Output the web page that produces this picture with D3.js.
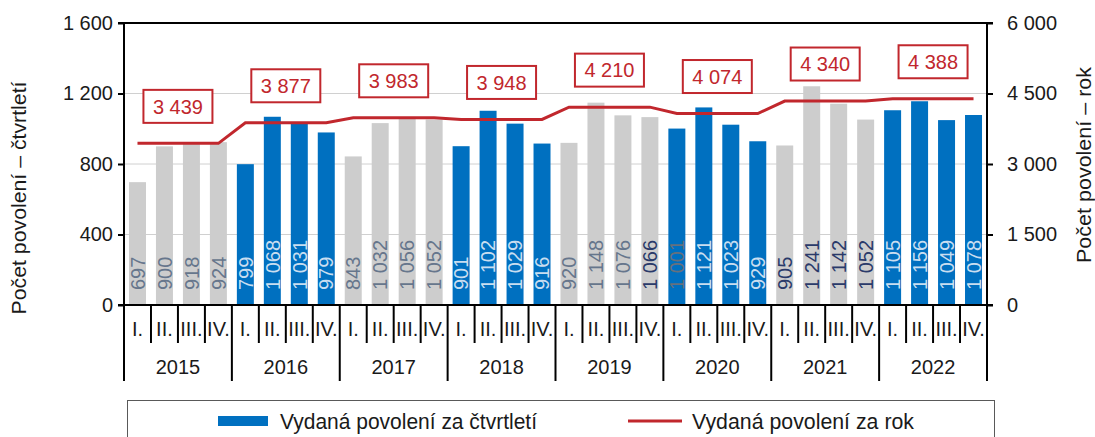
<!DOCTYPE html>
<html>
<head>
<meta charset="utf-8">
<script src="https://cdn.jsdelivr.net/npm/d3@7"></script>
<style>
  body { margin: 0; background: #fff; }
  svg text { font-family: "Liberation Sans", Arial, sans-serif; }
</style>
</head>
<body>
<svg id="chart"></svg>
<script>
var years = ["2015", "2016", "2017", "2018", "2019", "2020", "2021", "2022"];
var quarters = ["I.", "II.", "III.", "IV."];
var quarterly = [697, 900, 918, 924,
	799, 1068, 1031, 979,
	843, 1032, 1056, 1052,
	901, 1102, 1029, 916,
	920, 1148, 1076, 1066,
	1001, 1121, 1023, 929,
	905, 1241, 1142, 1052,
	1105, 1156, 1049, 1078];
var annual = [3439, 3877, 3983, 3948, 4210, 4074, 4340, 4388];
var leftTicks = [0, 400, 800, 1200, 1600];
var rightTicks = [0, 1500, 3000, 4500, 6000];

var W = 1095, H = 437;
var plot = { left: 124, right: 987, top: 23, bottom: 305 };

var blue = "#0070C0", grey = "#CDCDCD", red = "#C1272D";

var loc = d3.formatLocale({ decimal: ",", thousands: " ", grouping: [3], currency: ["", ""] });
var fmt = loc.format(",d");

var svg = d3.select("#chart").attr("width", W).attr("height", H);

var rows = quarterly.map(function(v, i) {
	return { i: i, value: v, year: Math.floor(i / 4), q: i % 4 };
});

var x = d3.scaleBand()
	.domain(d3.range(quarterly.length))
	.range([plot.left, plot.right])
	.paddingInner(0.37)
	.paddingOuter(0.185);
var step = x.step();

var y = d3.scaleLinear().domain([0, 1600]).range([plot.bottom, plot.top]);
var yR = d3.scaleLinear().domain([0, 6000]).range([plot.bottom, plot.top]);

// gridlines
svg.append("g").selectAll("line")
	.data([400, 800, 1200])
	.enter().append("line")
	.attr("x1", plot.left).attr("x2", plot.right)
	.attr("y1", function(d) { return y(d); })
	.attr("y2", function(d) { return y(d); })
	.attr("stroke", "#d0d0d0").attr("stroke-width", 1);

// bars
svg.append("g").selectAll("rect")
	.data(rows)
	.enter().append("rect")
	.attr("x", function(d) { return x(d.i); })
	.attr("y", function(d) { return y(d.value); })
	.attr("width", x.bandwidth())
	.attr("height", function(d) { return plot.bottom - y(d.value); })
	.attr("fill", function(d) { return d.year % 2 ? blue : grey; });

var labelColor = function(d) {
	if (d.year === 6 || d.i === 19) return "#2a3a6a";
	if (d.i === 20) return "#66707e";
	return d.year % 2 ? "#c9def0" : "#66768c";
};

svg.append("g").selectAll("text")
	.data(rows)
	.enter().append("text")
	.attr("transform", function(d) {
		return "translate(" + (x(d.i) + x.bandwidth() / 2) + "," + (plot.bottom - 15) + ") rotate(-90)";
	})
	.attr("dy", "0.36em")
	.attr("font-size", 20)
	.attr("fill", labelColor)
	.text(function(d) { return fmt(d.value); });

// annual line
var line = d3.line()
	.x(function(d) { return x(d.i) + x.bandwidth() / 2; })
	.y(function(d) { return yR(annual[d.year]); });

svg.append("path")
	.datum(rows)
	.attr("d", line)
	.attr("fill", "none")
	.attr("stroke", red)
	.attr("stroke-width", 3);

// annual label boxes
var boxes = svg.append("g").selectAll("g")
	.data(annual)
	.enter().append("g")
	.attr("transform", function(d, i) {
		var cx = plot.left + (i * 4 + 2) * step;
		return "translate(" + cx + "," + (yR(d) - 37) + ")";
	});
boxes.append("rect")
	.attr("x", -34.5).attr("y", -16.5)
	.attr("width", 69).attr("height", 33)
	.attr("fill", "#fff").attr("stroke", red).attr("stroke-width", 2);
boxes.append("text")
	.attr("text-anchor", "middle")
	.attr("dy", "0.36em")
	.attr("font-size", 20)
	.attr("fill", red)
	.text(function(d) { return fmt(d); });

// axes
var axisLeft = d3.axisLeft(y).tickValues(leftTicks).tickSize(6).tickPadding(5).tickFormat(fmt);
var axisRight = d3.axisRight(yR).tickValues(rightTicks).tickSize(6).tickPadding(14).tickFormat(fmt);

var gl = svg.append("g").attr("transform", "translate(" + plot.left + ",0)").call(axisLeft);
var gr = svg.append("g").attr("transform", "translate(" + plot.right + ",0)").call(axisRight);
[gl, gr].forEach(function(g) {
	g.select(".domain").remove();
	g.selectAll("line").attr("stroke", "#000").attr("stroke-width", 2);
	g.selectAll("text").attr("font-size", 20).attr("fill", "#1a1a1a")
		.style("font-family", "'Liberation Sans', Arial, sans-serif");
});

svg.append("line").attr("x1", plot.left).attr("x2", plot.left).attr("y1", plot.top).attr("y2", plot.bottom)
	.attr("stroke", "#000").attr("stroke-width", 2);
svg.append("line").attr("x1", plot.right).attr("x2", plot.right).attr("y1", plot.top).attr("y2", plot.bottom)
	.attr("stroke", "#000").attr("stroke-width", 2);
svg.append("line").attr("x1", plot.left - 6).attr("x2", plot.right + 6).attr("y1", plot.top).attr("y2", plot.top)
	.attr("stroke", "#000").attr("stroke-width", 2);
svg.append("line").attr("x1", plot.left - 6).attr("x2", plot.right + 6).attr("y1", plot.bottom).attr("y2", plot.bottom)
	.attr("stroke", "#000").attr("stroke-width", 2);

// category axis: quarter and year ticks
var bounds = d3.range(quarterly.length + 1);
svg.append("g").selectAll("line")
	.data(bounds)
	.enter().append("line")
	.attr("x1", function(d) { return plot.left + d * step; })
	.attr("x2", function(d) { return plot.left + d * step; })
	.attr("y1", plot.bottom)
	.attr("y2", function(d) { return d % 4 === 0 ? 381 : 343; })
	.attr("stroke", "#000").attr("stroke-width", 2);

svg.append("g").selectAll("text")
	.data(rows)
	.enter().append("text")
	.attr("x", function(d) { return x(d.i) + x.bandwidth() / 2; })
	.attr("y", 329)
	.attr("dy", "0.36em")
	.attr("text-anchor", "middle")
	.attr("font-size", 20)
	.attr("fill", "#1a1a1a")
	.style("font-family", "'Liberation Sans Narrow', 'Liberation Sans', Arial, sans-serif")
	.text(function(d) { return quarters[d.q]; });

svg.append("g").selectAll("text")
	.data(years)
	.enter().append("text")
	.attr("x", function(d, i) { return plot.left + (i * 4 + 2) * step; })
	.attr("y", 367)
	.attr("dy", "0.36em")
	.attr("text-anchor", "middle")
	.attr("font-size", 20)
	.attr("fill", "#1a1a1a")
	.text(function(d) { return d; });

// axis titles
svg.append("text")
	.attr("transform", "translate(18,198) rotate(-90)")
	.attr("text-anchor", "middle").attr("dy", "0.36em")
	.attr("font-size", 21).attr("fill", "#1a1a1a")
	.attr("textLength", 233).attr("lengthAdjust", "spacingAndGlyphs")
	.text("Počet povolení \u2013 čtvrtletí");
svg.append("text")
	.attr("transform", "translate(1083,165) rotate(-90)")
	.attr("text-anchor", "middle").attr("dy", "0.36em")
	.attr("font-size", 21).attr("fill", "#1a1a1a")
	.attr("textLength", 196).attr("lengthAdjust", "spacingAndGlyphs")
	.text("Počet povolení \u2013 rok");

// legend
var lg = svg.append("g");
lg.append("rect")
	.attr("x", 127.5).attr("y", 400.5).attr("width", 867).attr("height", 60)
	.attr("fill", "#fff").attr("stroke", "#595959").attr("stroke-width", 1);
lg.append("rect")
	.attr("x", 218).attr("y", 416).attr("width", 50).attr("height", 10)
	.attr("fill", blue);
lg.append("text")
	.attr("x", 280).attr("y", 421).attr("dy", "0.36em")
	.attr("font-size", 22).attr("fill", "#1a1a1a")
	.attr("textLength", 257).attr("lengthAdjust", "spacingAndGlyphs")
	.text("Vydaná povolení za čtvrtletí");
lg.append("line")
	.attr("x1", 628).attr("x2", 682).attr("y1", 421).attr("y2", 421)
	.attr("stroke", red).attr("stroke-width", 3);
lg.append("text")
	.attr("x", 692).attr("y", 421).attr("dy", "0.36em")
	.attr("font-size", 22).attr("fill", "#1a1a1a")
	.attr("textLength", 222).attr("lengthAdjust", "spacingAndGlyphs")
	.text("Vydaná povolení za rok");
</script>
</body>
</html>
